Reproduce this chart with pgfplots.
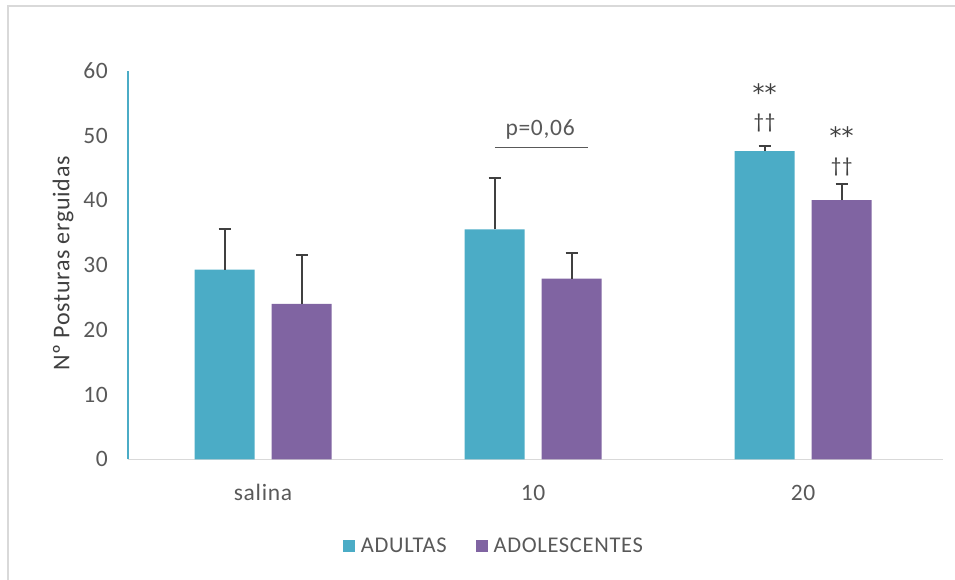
\documentclass[border=0pt]{standalone}
\usepackage{fontspec}
\setmainfont[LetterSpace=3]{Carlito}
\newfontfamily\symfont{DejaVu Sans}
\usepackage{pgfplots}
\pgfplotsset{compat=1.18}

\definecolor{adult}{HTML}{4BACC6}
\definecolor{adol}{HTML}{8064A2}
\definecolor{txt}{HTML}{595959}
\definecolor{dark}{HTML}{404040}
\definecolor{framec}{HTML}{D9D9D9}

\begin{document}
\begin{tikzpicture}
% chart area frame
\draw[framec, line width=2pt] (8pt,-580pt) -- (8pt,-6pt) -- (955pt,-6pt);
\begin{axis}[
  at={(128pt,-459.3pt)}, anchor=south west,
  scale only axis, width=815pt, height=388.6pt,
  xmin=-0.5, xmax=2.518, ymin=0, ymax=60,
  clip=false,
  axis x line=bottom, axis y line=left,
  x axis line style={-, draw=framec, line width=1.5pt},
  y axis line style={-, draw=adult, line width=2pt},
  xtick={0,1,2}, xticklabels={salina,10,20},
  ytick={0,10,...,60},
  major tick length=0pt,
  /pgf/number format/assume math mode=true,
  font=\fontsize{23.5}{28}\selectfont,
  ticklabel style={text=txt},
  yticklabel style={anchor=east, inner sep=0pt, xshift=-20pt},
  xticklabel style={anchor=base, inner sep=0pt, yshift=-40.7pt},
  ylabel={Nº Posturas erguidas},
  ylabel style={at={(rel axis cs:0,0.504)}, anchor=center, yshift=65pt,
    text=dark, font=\fontsize{24}{28}\selectfont},
  ybar, bar width=60pt,
  legend columns=2,
  legend style={at={(rel axis cs:0.449,0)}, yshift=-86.2pt, anchor=center,
    draw=none, fill=none, text=txt, font=\fontsize{22.5}{26}\selectfont,
    /tikz/every even column/.append style={column sep=27pt}},
  legend image code/.code={\fill[#1] (0pt,-6pt) rectangle (12pt,6pt); \path (16pt,0pt);},
  error bars/y dir=plus, error bars/y explicit,
  error bars/error bar style={line width=2pt, draw=dark},
  error bars/error mark options={rotate=90, mark size=6pt, line width=2pt, draw=dark},
]
\addplot[fill=adult, draw=none, bar shift=-38.5pt]
  coordinates {(0,29.3) +- (0,6.2) (1,35.5) +- (0,7.9) (2,47.6) +- (0,0.8)};
\addplot[fill=adol, draw=none, bar shift=38.5pt]
  coordinates {(0,24.0) +- (0,7.5) (1,27.9) +- (0,4.0) (2,40.0) +- (0,2.5)};
\legend{ADULTAS, ADOLESCENTES}

% significance marks
\draw[txt, line width=1.3pt] (axis cs:0.859,48.1) -- (axis cs:1.204,48.1);
\node[txt] at (axis cs:1.026,50.9) {p=0,06};
\node[dark, font=\symfont\fontsize{24}{28}\selectfont] at (axis cs:1.857,56.6) {**};
\node[dark, font=\fontsize{21}{24}\selectfont] at (axis cs:1.857,51.9) {††};
\node[dark, font=\symfont\fontsize{24}{28}\selectfont] at (axis cs:2.143,50.0) {**};
\node[dark, font=\fontsize{21}{24}\selectfont] at (axis cs:2.143,45.2) {††};
\end{axis}
\pgfresetboundingbox
\path (0pt,0pt) rectangle (955pt,-580pt);
\end{tikzpicture}
\end{document}
